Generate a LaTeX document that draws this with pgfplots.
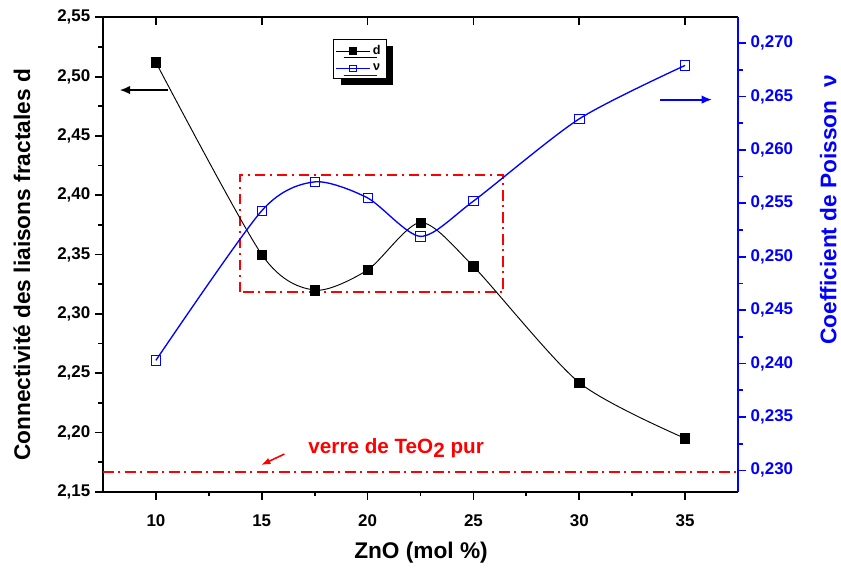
\documentclass[border=0pt]{standalone}
\usepackage{pgfplots}
\pgfplotsset{compat=1.18}
\usepackage{fontspec}
\setmainfont{Liberation Sans}
\usetikzlibrary{arrows.meta,shadows}
\definecolor{oblue}{RGB}{0,0,255}
\definecolor{ored}{RGB}{255,0,0}
\begin{document}
\begin{tikzpicture}
\useasboundingbox (-77.25pt,-60.2pt) rectangle (553.5pt,368.8pt);
\pgfplotsset{
  common/.style={
    scale only axis, width=476.25pt, height=355.8pt,
    xmin=7.5, xmax=37.5,
    /pgf/number format/assume math mode=true,
    tick label style={font=\fontsize{12.7}{14}\selectfont\bfseries},
    label style={font=\fontsize{17}{19}\selectfont\bfseries},
    axis line style={-, line width=1.5pt},
    every tick/.style={line width=1.3pt},
    major tick length=6pt, minor tick length=3.5pt,
  }
}
% left axis (d)
\begin{axis}[common,
  ymin=2.15, ymax=2.55,
  axis x line*=bottom, axis y line*=left,
  tick align=outside,
  xtick={10,15,20,25,30,35}, minor x tick num=1,
  ytick={2.15,2.20,2.25,2.30,2.35,2.40,2.45,2.50,2.55}, minor y tick num=1,
  yticklabel style={/pgf/number format/.cd, fixed, fixed zerofill, precision=2, use comma},
  xticklabel style={yshift=-8pt},
  xlabel={ZnO (mol \%)},
  xlabel style={at={(rel axis cs:0.5008,-0.1293)}, anchor=center},
  ylabel={Connectivité des liaisons fractales d},
  ylabel style={at={(rel axis cs:-0.1276,0.478)}, anchor=center},
]
\addplot[ored, line width=1.5pt, dash pattern=on 8pt off 3.5pt on 1.5pt off 3.5pt] coordinates {(7.5,2.1663)(37.5,2.1663)};
\draw[ored, line width=1.5pt, dash pattern=on 8pt off 3.5pt on 1.5pt off 3.5pt] (axis cs:13.97,2.318) rectangle (axis cs:26.42,2.417);
\addplot[black, line width=0.7pt, smooth, tension=0.45, mark=square*, mark size=3.5pt, mark options={solid, line width=0.4pt}] coordinates {
(10,2.512)(15,2.350)(17.5,2.320)(20,2.337)(22.5,2.377)(25,2.340)(30,2.242)(35,2.195)};
\draw[-{Latex[length=8pt,width=6.5pt]}, line width=1.5pt] (axis cs:10.56,2.4887) -- (axis cs:8.28,2.4887);
\draw[-{Latex[length=7pt,width=5pt]}, ored, line width=1.2pt] (axis cs:16.07,2.1818) -- (axis cs:14.97,2.1725);
\node[ored, font=\fontsize{15.5}{17}\selectfont\bfseries] at (axis cs:21.35,2.1868) {verre de TeO\raisebox{-0.4ex}{2} pur};
\end{axis}
% top ticks
\begin{axis}[common,
  ymin=0, ymax=1,
  axis x line*=top, axis y line=none,
  tick align=inside,
  xtick={10,15,20,25,30,35}, xticklabels={},
]
\end{axis}
% right axis (nu)
\begin{axis}[common,
  ymin=0.228, ymax=0.2724,
  axis x line=none, axis y line*=right,
  tick align=outside,
  y axis line style={oblue},
  ytick style={oblue},
  ytick={0.230,0.235,0.240,0.245,0.250,0.255,0.260,0.265,0.270}, minor y tick num=1,
  yticklabel style={oblue, /pgf/number format/.cd, fixed, fixed zerofill, precision=3, use comma},
  ylabel={Coefficient de Poisson\ \ ν},
  ylabel style={oblue, at={(rel axis cs:1.1423,0.594)}, anchor=center},
  legend style={at={(rel axis cs:0.362,0.954)}, anchor=north west, draw=black, line width=0.5pt,
    font=\fontsize{9.5}{11}\selectfont\bfseries, inner xsep=2pt, inner ysep=2.5pt, row sep=1.5pt,
    drop shadow={shadow xshift=5.5pt, shadow yshift=-5pt, opacity=1, fill=black}},
  legend image code/.code={\draw[mark repeat=2,mark phase=2,#1] plot coordinates {(0pt,0pt)(12.5pt,0pt)(25pt,0pt)};},
]
\addlegendimage{black, line width=0.5pt, mark=square*, mark size=2.5pt}
\addlegendentry{d}
\addlegendimage{oblue, line width=0.7pt, mark=square, mark size=2.5pt, mark options={fill=white}}
\addlegendentry{ν}
\addplot[oblue, line width=1pt, smooth, tension=0.45, mark=square, mark size=3.5pt, mark options={solid, fill=white, line width=0.6pt}, forget plot] coordinates {
(10,0.2403)(15,0.2543)(17.5,0.2570)(20,0.2555)(22.5,0.2519)(25,0.2552)(30,0.2629)(35,0.2679)};
\draw[-{Latex[length=8pt,width=6.5pt]}, oblue, line width=1.5pt] (axis cs:33.83,0.2647) -- (axis cs:36.28,0.2647);
\end{axis}
\end{tikzpicture}
\end{document}
